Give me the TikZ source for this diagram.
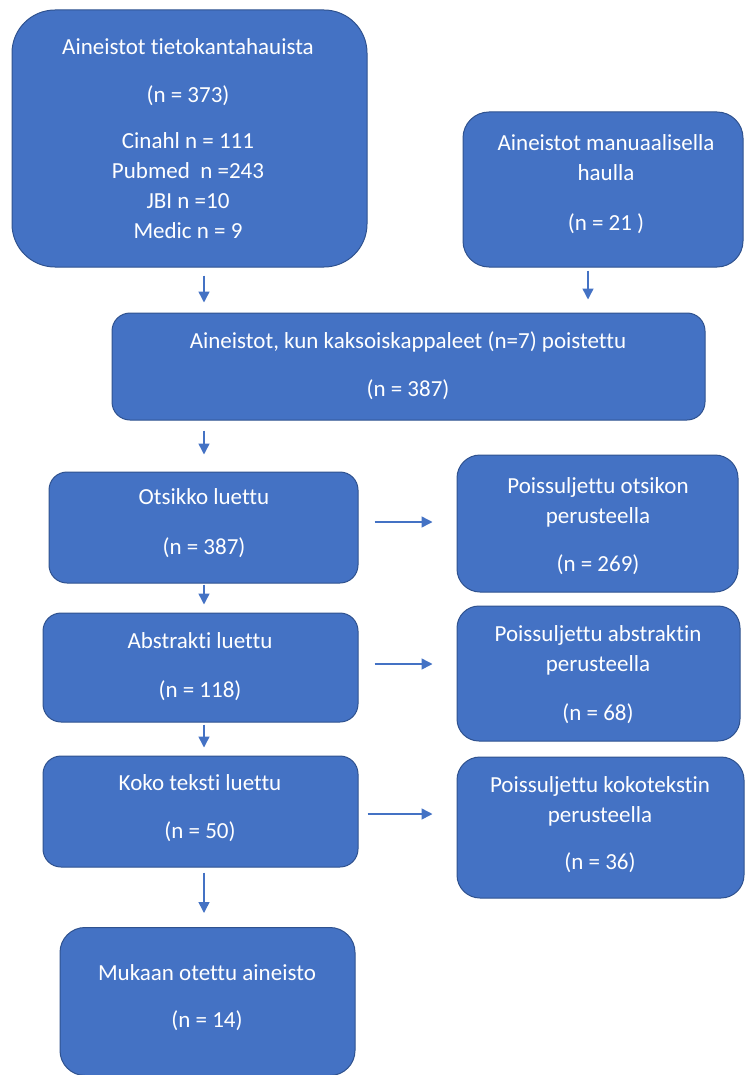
\documentclass[tikz,border=0pt]{standalone}
\usepackage{fontspec}
\setmainfont{Carlito}[Ligatures={NoCommon}]
\usetikzlibrary{arrows.meta}
\definecolor{boxfill}{HTML}{4472C4}
\definecolor{boxline}{HTML}{2F528F}
\definecolor{arrowcol}{HTML}{4472C4}
\begin{document}
\begin{tikzpicture}[x=1pt,y=-1pt,
  box/.style={draw=boxline, fill=boxfill, line width=1pt, inner sep=0pt},
  txt/.style={text=white, align=center, inner sep=0pt, font=\fontsize{23}{30}\selectfont},
  arr/.style={draw=arrowcol, line width=1.5pt, -{Triangle[width=11pt,length=11pt]}}
]
\clip (0,0) rectangle (745,1075);
% boxes
\node[box, minimum width=355pt, minimum height=257pt, rounded corners=43pt] (b1) at (189.5,138.5) {};
\node[box, minimum width=280pt, minimum height=155pt, rounded corners=26pt] (b2) at (603,189.5) {};
\node[box, minimum width=593pt, minimum height=107pt, rounded corners=18pt] (b3) at (408.5,366.5) {};
\node[box, minimum width=309pt, minimum height=111pt, rounded corners=18pt] (b4) at (203.5,527.5) {};
\node[box, minimum width=281pt, minimum height=137pt, rounded corners=23pt] (b5) at (597.5,523.5) {};
\node[box, minimum width=315pt, minimum height=109pt, rounded corners=18pt] (b6) at (200.5,667.5) {};
\node[box, minimum width=283pt, minimum height=135pt, rounded corners=22pt] (b7) at (598.5,673.5) {};
\node[box, minimum width=315pt, minimum height=111pt, rounded corners=18pt] (b8) at (200.5,811.5) {};
\node[box, minimum width=287pt, minimum height=141pt, rounded corners=23pt] (b9) at (600.5,827.5) {};
\node[box, minimum width=295pt, minimum height=148pt, rounded corners=25pt] (b10) at (207.5,1001.5) {};
% texts
\node[txt] (t1) at (188,139) {Aineistot tietokantahauista\\[18pt](n = 373)\\[16pt]Cinahl n = 111\\Pubmed\ \ n =243\\JBI n =10\\Medic n = 9};
\node[txt] (t2) at (606,184) {Aineistot manuaalisella\\haulla\\[20pt](n = 21 )};
\node[txt] (t3) at (408,366) {Aineistot, kun kaksoiskappaleet (n=7) poistettu\\[18pt](n = 387)};
\node[txt] (t4) at (204,523) {Otsikko luettu\\[20pt](n = 387)};
\node[txt] (t5) at (598,526) {Poissuljettu otsikon\\perusteella\\[18pt](n = 269)};
\node[txt] (t6) at (200,666.5) {Abstrakti luettu\\[19pt](n = 118)};
\node[txt] (t7) at (598,674.5) {Poissuljettu abstraktin\\perusteella\\[19pt](n = 68)};
\node[txt] (t8) at (200,808) {Koko teksti luettu\\[18pt](n = 50)};
\node[txt] (t9) at (600,824.5) {Poissuljettu kokotekstin\\perusteella\\[17pt](n = 36)};
\node[txt] (t10) at (207,997.5) {Mukaan otettu aineisto\\[17pt](n = 14)};
% arrow guides
\coordinate (xl) at (204,0);
\coordinate (xr) at (588,0);
\coordinate (h1) at (0,522);
\coordinate (h2) at (0,664);
\coordinate (h3) at (0,814);
% arrows
\draw[arr, shorten <=8pt, shorten >=10pt] (b1.south -| xl) -- (b3.north -| xl);
\draw[arr, shorten <=3pt, shorten >=13pt] (b2.south -| xr) -- (b3.north -| xr);
\draw[arr, shorten <=10pt, shorten >=17pt] (b3.south -| xl) -- (b4.north -| xl);
\draw[arr, shorten <=16pt, shorten >=24pt] (b4.east |- h1) -- (b5.west |- h1);
\draw[arr, shorten <=1pt, shorten >=8pt] (b4.south -| xl) -- (b6.north -| xl);
\draw[arr, shorten <=16pt, shorten >=24pt] (b6.east |- h2) -- (b7.west |- h2);
\draw[arr, shorten <=2pt, shorten >=8pt] (b6.south -| xl) -- (b8.north -| xl);
\draw[arr, shorten <=9pt, shorten >=24pt] (b8.east |- h3) -- (b9.west |- h3);
\draw[arr, shorten <=5pt, shorten >=14pt] (b8.south -| xl) -- (b10.north -| xl);
\end{tikzpicture}
\end{document}
